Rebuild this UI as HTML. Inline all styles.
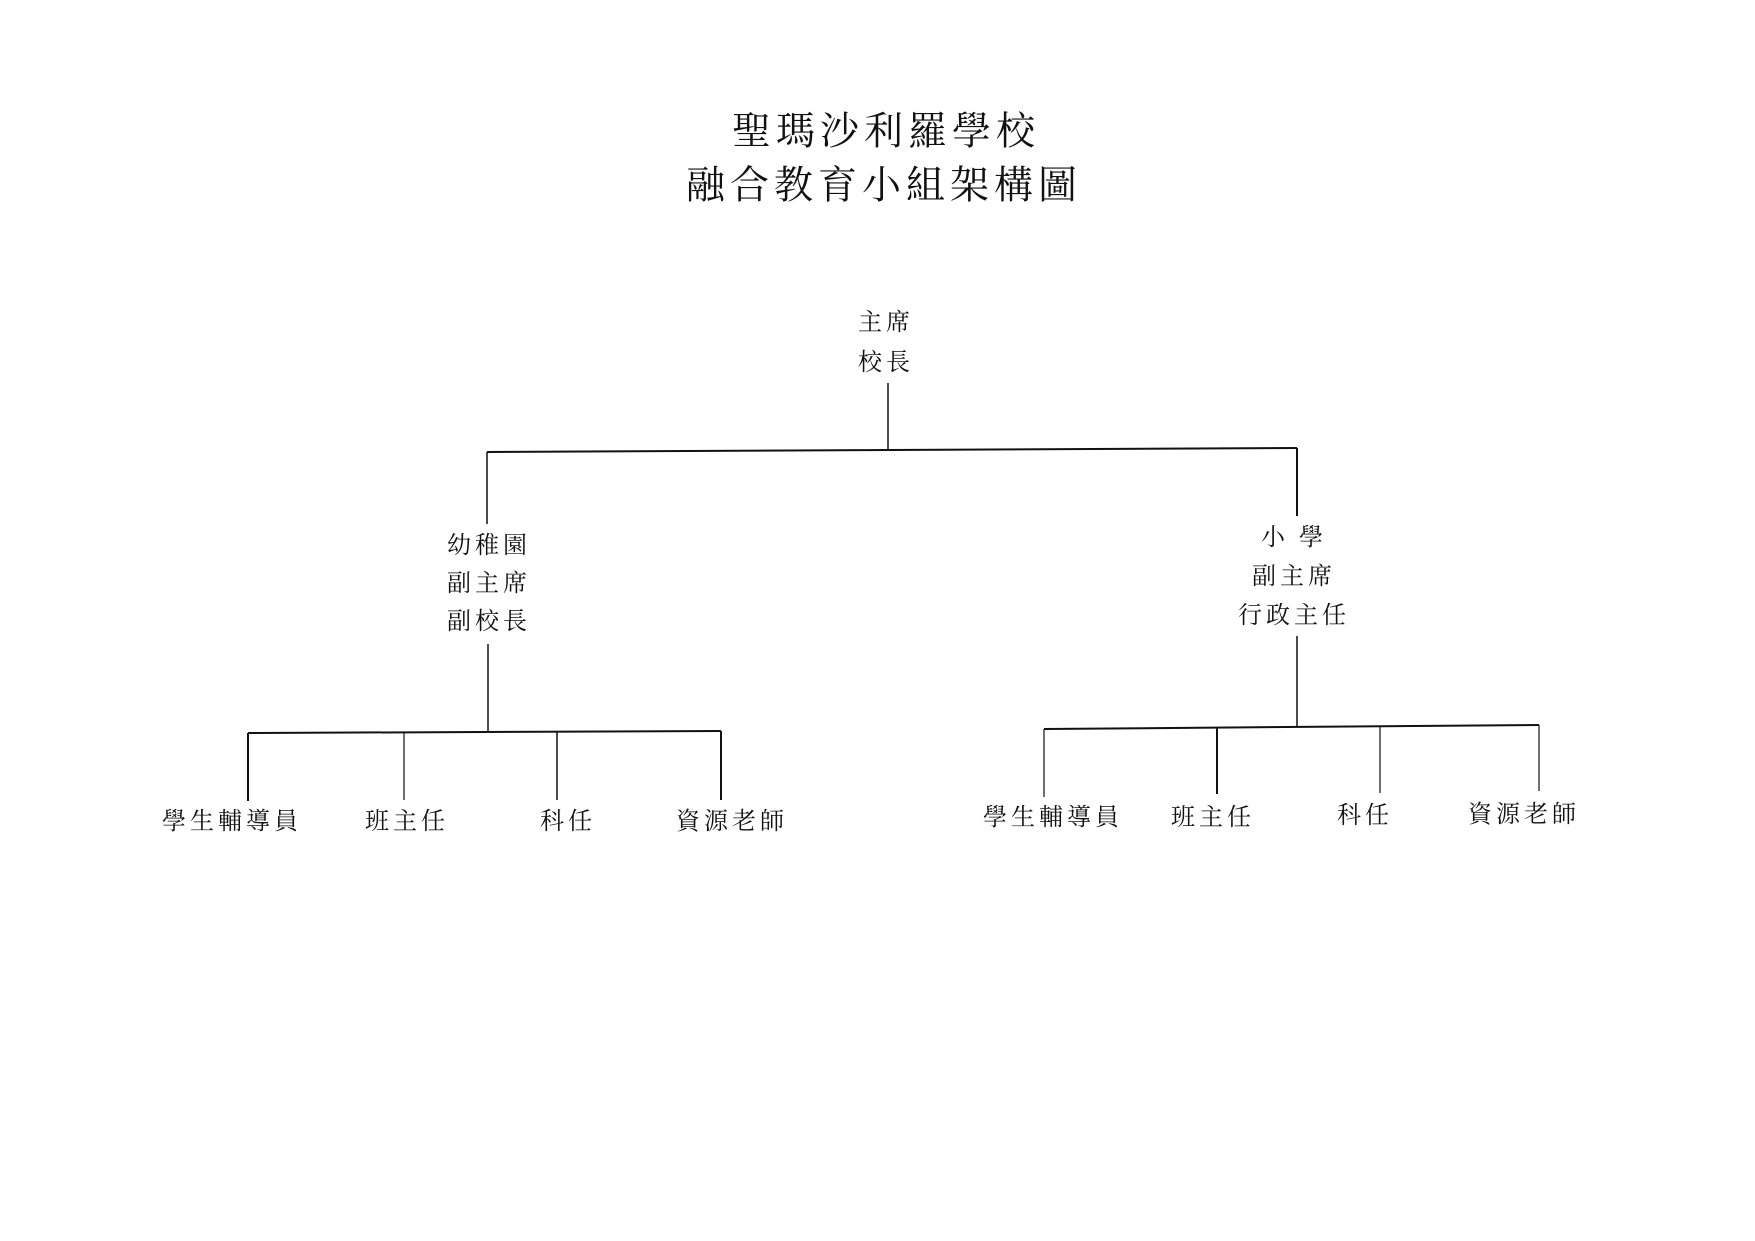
<!DOCTYPE html>
<html><head><meta charset="utf-8"><style>
html,body{margin:0;padding:0;background:#fff;}
body{width:1755px;height:1241px;position:relative;overflow:hidden;font-family:"Liberation Serif","Noto Serif CJK SC","Noto Sans CJK TC",serif;color:#111;}
#w{position:absolute;left:-7px;top:0;width:1755px;height:1241px;}
.t{position:absolute;white-space:nowrap;transform:translate(-50%,-50%);line-height:1;}
.h{font-size:39px;letter-spacing:5px;}
.n{font-size:24px;letter-spacing:4px;}
</style></head><body><div id="w">
<div class="t h" style="left:893px;top:132px;">聖瑪沙利羅學校</div>
<div class="t h" style="left:891px;top:186px;">融合教育小組架構圖</div>
<div class="t n" style="left:893px;top:323px;">主席</div>
<div class="t n" style="left:893px;top:363px;">校長</div>
<div class="t n" style="left:496px;top:546px;">幼稚園</div>
<div class="t n" style="left:496px;top:584px;">副主席</div>
<div class="t n" style="left:496px;top:622px;">副校長</div>
<div class="t n" style="left:1301px;top:538px;">小 學</div>
<div class="t n" style="left:1301px;top:577px;">副主席</div>
<div class="t n" style="left:1301px;top:616px;">行政主任</div>
<div class="t n" style="left:239px;top:822px;">學生輔導員</div>
<div class="t n" style="left:414px;top:822px;">班主任</div>
<div class="t n" style="left:575px;top:822px;">科任</div>
<div class="t n" style="left:739px;top:822px;">資源老師</div>
<div class="t n" style="left:1060px;top:818px;">學生輔導員</div>
<div class="t n" style="left:1220px;top:818px;">班主任</div>
<div class="t n" style="left:1372px;top:816px;">科任</div>
<div class="t n" style="left:1531px;top:815px;">資源老師</div>
<svg width="1755" height="1241" style="position:absolute;left:0;top:0" stroke="#111" fill="none">
<line x1="895" y1="383" x2="895" y2="451" stroke-width="1.5"/>
<line x1="494" y1="452" x2="1304" y2="448" stroke-width="2"/>
<line x1="494" y1="452" x2="494" y2="524" stroke-width="1.5"/>
<line x1="1304" y1="448" x2="1304" y2="516" stroke-width="2"/>
<line x1="495" y1="644" x2="495" y2="732" stroke-width="1.5"/>
<line x1="255" y1="733" x2="728" y2="731" stroke-width="2"/>
<line x1="255" y1="733" x2="255" y2="801" stroke-width="2"/>
<line x1="411" y1="732" x2="411" y2="800" stroke-width="1.2"/>
<line x1="564" y1="732" x2="564" y2="800" stroke-width="1.5"/>
<line x1="728" y1="731" x2="728" y2="800" stroke-width="2"/>
<line x1="1304" y1="636" x2="1304" y2="727" stroke-width="1.5"/>
<line x1="1051" y1="729" x2="1546" y2="725" stroke-width="2"/>
<line x1="1051" y1="729" x2="1051" y2="797" stroke-width="1.2"/>
<line x1="1224" y1="728" x2="1224" y2="794" stroke-width="2"/>
<line x1="1387" y1="727" x2="1387" y2="793" stroke-width="1.2"/>
<line x1="1546" y1="725" x2="1546" y2="791" stroke-width="1.2"/>
</svg>
</div></body></html>
